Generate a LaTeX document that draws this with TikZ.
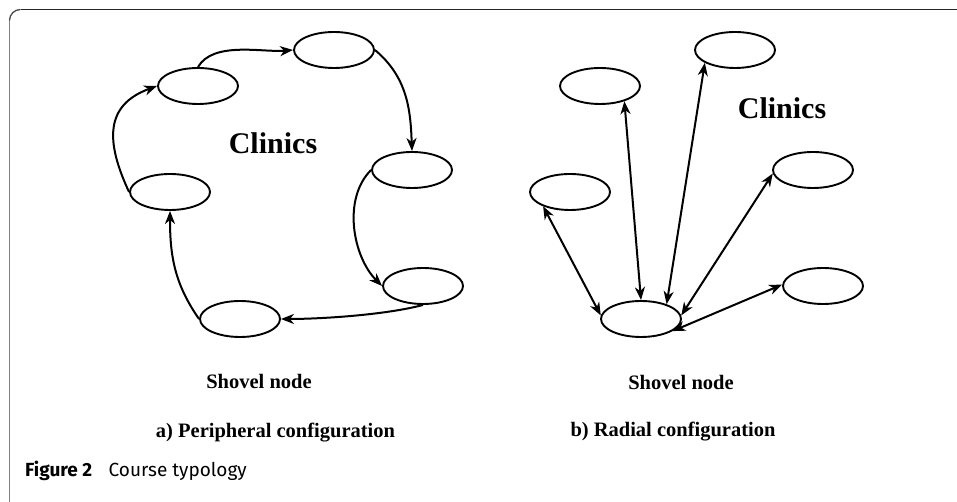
\documentclass[tikz,border=0pt]{standalone}
\usepackage{fontspec}
\setmainfont{Liberation Serif}
\newfontfamily\capfont{Fira Sans}
\usetikzlibrary{arrows.meta,shapes.geometric}
\begin{document}
\begin{tikzpicture}[x=1pt,y=1pt,
  site/.style={draw, ellipse, line width=1.9pt, minimum width=80pt, minimum height=36pt, inner sep=0pt},
  link/.style={line width=2pt, -{Stealth[length=13pt,width=10pt,inset=4pt]}},
  both/.style={line width=2pt, {Stealth[length=13pt,width=10pt,inset=4pt]}-{Stealth[length=13pt,width=10pt,inset=4pt]}},
  lbl/.style={font=\bfseries\fontsize{20.5}{24}\selectfont, anchor=base, inner sep=0pt},
  big/.style={font=\bfseries\fontsize{30}{34}\selectfont, anchor=base, inner sep=0pt}]
\useasboundingbox (0,0) rectangle (957,502);
% frame
\draw[line width=1.3pt, black!85] (20.5,492.5) -- (957,492.5);
\draw[line width=1.3pt, black!50] (9.5,0) -- (9.5,481.5);
\draw[line width=1.3pt, black!70] (9.5,481.5) arc[start angle=180,end angle=90,radius=11];
% left: peripheral
\node[site] (E1) at (334,452) {};
\node[site] (E2) at (198,416) {};
\node[site] (E3) at (412,332) {};
\node[site] (E4) at (170,310) {};
\node[site] (E5) at (423,216) {};
\node[site] (E6) at (240,183) {};
\node[big] (c1) at (273,348) {Clinics};
\node[lbl] (s1) at (259,113) {Shovel node};
\node[lbl] (a1) at (275.5,64) {a) Peripheral configuration};
\draw[link] (E2.north) to[out=60, in=185, looseness=0.8] (E1.west);
\draw[link] (E1.east) to[out=-40, in=92] (E3.north);
\draw[link] (E3.west) to[out=225, in=135, looseness=0.9] (E5.west);
\draw[link] (E5.south) to[out=195, in=0, looseness=0.7] (E6.east);
\draw[link] (E6.west) to[out=125, in=-90] (E4.south);
\draw[link] (E4.west) to[out=115, in=200, looseness=1.3] (E2.west);
% right: radial
\node[site] (R1) at (735,452) {};
\node[site] (R2) at (600,416) {};
\node[site] (R3) at (813,332) {};
\node[site] (R4) at (570,310) {};
\node[site] (R5) at (823,216) {};
\node[site] (R6) at (641,183) {};
\node[big] (c2) at (782,383) {Clinics};
\node[lbl] (s2) at (681,112) {Shovel node};
\node[lbl] (b1) at (673,65) {b) Radial configuration};
\draw[both] (R6.175) -- (R4.208);
\draw[both] (R6.north) -- (R2.-32);
\draw[both] (R6.30) -- (R1.203);
\draw[both] (R6.5) -- (R3.185);
\draw[both] (R6.-21) -- (R5.178);
% caption
\node[anchor=base west, inner sep=0pt, font=\capfont\fontsize{19}{22}\selectfont] (cap) at (25,25) {\textbf{Figure 2}\hspace{0.6em} Course typology};
\end{tikzpicture}
\end{document}
